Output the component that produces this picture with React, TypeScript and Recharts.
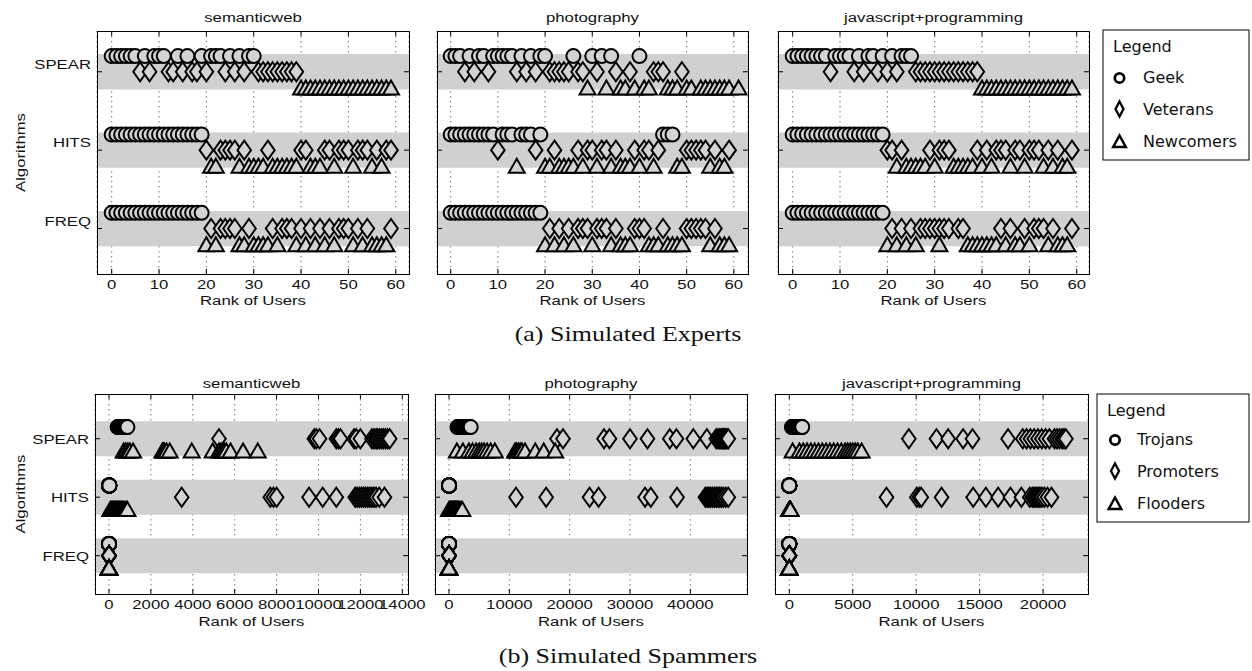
import React from 'react';
import { ScatterChart, Scatter, XAxis, YAxis, CartesianGrid, ReferenceArea } from 'recharts';

// ---------- categories / labels ----------
const ALGORITHMS = ['FREQ', 'HITS', 'SPEAR']; // y = 1, 2, 3
const TOPICS = ['semanticweb', 'photography', 'javascript+programming'];
const EXPERT_CLASSES = ['Geek', 'Veterans', 'Newcomers'];
const SPAMMER_CLASSES = ['Trojans', 'Promoters', 'Flooders'];
const X_TICKS_A = [0, 10, 20, 30, 40, 50, 60];
const X_TICKS_B_SW = [0, 2000, 4000, 6000, 8000, 10000, 12000, 14000];
const X_TICKS_B_PH = [0, 10000, 20000, 30000, 40000];
const X_TICKS_B_JS = [0, 5000, 10000, 15000, 20000];

// ---------- (a) Simulated Experts: ranks ----------
const SW_A_SPEAR_GEEK = [0, 1, 2, 3, 4, 5, 7, 9, 10, 11, 14, 16, 19, 21, 22, 23, 25, 27, 29, 30];
const SW_A_SPEAR_VET = [6, 8, 12, 13, 15, 17, 18, 20, 24, 26, 28, 31, 32, 33, 34, 35, 36, 37, 38, 39];
const SW_A_SPEAR_NEW = [40, 41, 42, 43, 44, 45, 46, 47, 48, 49, 50, 51, 52, 53, 54, 55, 56, 57, 58, 59];
const SW_A_HITS_GEEK = [0, 1, 2, 3, 4, 5, 6, 7, 8, 9, 10, 11, 12, 13, 14, 15, 16, 17, 18, 19];
const SW_A_HITS_VET = [20, 23, 24, 25, 26, 28, 33, 40, 41, 45, 46, 48, 49, 50, 52, 53, 54, 56, 58, 59];
const SW_A_HITS_NEW = [21, 22, 27, 29, 30, 31, 32, 34, 35, 36, 37, 38, 39, 42, 43, 44, 47, 51, 55, 57];
const SW_A_FREQ_GEEK = [0, 1, 2, 3, 4, 5, 6, 7, 8, 9, 10, 11, 12, 13, 14, 15, 16, 17, 18, 19];
const SW_A_FREQ_VET = [21, 23, 24, 25, 26, 29, 34, 36, 37, 38, 40, 42, 44, 46, 48, 49, 50, 52, 54, 59];
const SW_A_FREQ_NEW = [20, 22, 27, 28, 30, 31, 32, 33, 35, 39, 41, 43, 45, 47, 51, 53, 55, 56, 57, 58];

const PH_A_SPEAR_GEEK = [0, 1, 2, 4, 6, 7, 9, 10, 11, 12, 13, 15, 17, 19, 20, 26, 30, 32, 34, 40];
const PH_A_SPEAR_VET = [3, 5, 8, 14, 16, 18, 21, 22, 23, 24, 25, 27, 28, 31, 35, 38, 43, 44, 45, 49];
const PH_A_SPEAR_NEW = [29, 33, 36, 37, 39, 41, 42, 46, 47, 48, 50, 51, 53, 54, 55, 56, 57, 58, 59, 61];
const PH_A_HITS_GEEK = [0, 1, 2, 3, 4, 5, 6, 7, 8, 9, 11, 12, 13, 15, 16, 17, 19, 45, 46, 47];
const PH_A_HITS_VET = [10, 18, 22, 27, 29, 30, 32, 33, 35, 39, 41, 42, 44, 50, 51, 52, 53, 54, 56, 59];
const PH_A_HITS_NEW = [14, 20, 21, 23, 24, 25, 26, 28, 31, 34, 36, 37, 38, 40, 43, 48, 49, 55, 57, 58];
const PH_A_FREQ_GEEK = [0, 1, 2, 3, 4, 5, 6, 7, 8, 9, 10, 11, 12, 13, 14, 15, 16, 17, 18, 19];
const PH_A_FREQ_VET = [21, 23, 25, 27, 28, 29, 31, 32, 33, 35, 39, 40, 41, 45, 50, 51, 52, 53, 54, 56];
const PH_A_FREQ_NEW = [20, 22, 24, 26, 30, 34, 36, 37, 38, 42, 43, 44, 46, 47, 48, 49, 55, 57, 58, 59];

const JS_A_SPEAR_GEEK = [0, 1, 2, 3, 4, 5, 6, 7, 9, 10, 11, 12, 14, 16, 17, 19, 21, 23, 24, 25];
const JS_A_SPEAR_VET = [8, 13, 15, 18, 20, 22, 26, 27, 28, 29, 30, 31, 32, 33, 34, 35, 36, 37, 38, 39];
const JS_A_SPEAR_NEW = [40, 41, 42, 43, 44, 45, 46, 47, 48, 49, 50, 51, 52, 53, 54, 55, 56, 57, 58, 59];
const JS_A_HITS_GEEK = [0, 1, 2, 3, 4, 5, 6, 7, 8, 9, 10, 11, 12, 13, 14, 15, 16, 17, 18, 19];
const JS_A_HITS_VET = [20, 21, 23, 29, 31, 32, 33, 39, 41, 43, 44, 45, 47, 48, 50, 51, 52, 54, 56, 59];
const JS_A_HITS_NEW = [22, 24, 25, 26, 27, 28, 30, 34, 35, 36, 37, 38, 40, 42, 46, 49, 53, 55, 57, 58];
const JS_A_FREQ_GEEK = [0, 1, 2, 3, 4, 5, 6, 7, 8, 9, 10, 11, 12, 13, 14, 15, 16, 17, 18, 19];
const JS_A_FREQ_VET = [21, 23, 25, 27, 28, 29, 30, 31, 32, 33, 35, 36, 44, 46, 49, 51, 52, 53, 55, 59];
const JS_A_FREQ_NEW = [20, 22, 24, 26, 31, 37, 38, 39, 40, 41, 42, 43, 45, 47, 48, 50, 54, 56, 57, 58];

// ---------- (b) Simulated Spammers: ranks ----------
const SW_B_SPEAR_TROJ = [410, 440, 470, 500, 520, 540, 560, 580, 600, 620, 640, 660, 680, 700, 720, 740, 770, 800, 840, 880];
const SW_B_SPEAR_PROM = [5250, 9800, 9900, 10050, 10850, 10950, 11050, 11700, 11800, 12000, 12550, 12650, 12750, 12800, 12900, 13000, 13100, 13200, 13300, 13400];
const SW_B_SPEAR_FLOOD = [700, 800, 900, 1000, 1150, 2550, 2600, 2650, 2750, 2900, 3950, 4950, 5250, 5350, 5450, 5500, 5600, 5800, 6400, 7100];
const SW_B_HITS_TROJ = [0, 1, 2, 3, 4, 5, 6, 7, 8, 9, 10, 11, 12, 13, 14, 15, 16, 17, 18, 19];
const SW_B_HITS_PROM = [3470, 7700, 7850, 8000, 9550, 10200, 10850, 11750, 11850, 11950, 12050, 12150, 12250, 12350, 12450, 12550, 12650, 12750, 12900, 13150];
const SW_B_HITS_FLOOD = [60, 100, 140, 180, 220, 260, 300, 340, 380, 420, 460, 500, 540, 580, 620, 660, 700, 760, 820, 880];
const SW_B_FREQ_TROJ = [0, 0, 0, 0, 0, 0, 0, 0, 0, 0, 0, 0, 0, 0, 0, 0, 0, 0, 0, 0];
const SW_B_FREQ_PROM = [0, 0, 0, 0, 0, 0, 0, 0, 0, 0, 0, 0, 0, 0, 0, 0, 0, 0, 0, 0];
const SW_B_FREQ_FLOOD = [0, 0, 0, 0, 0, 0, 0, 0, 0, 0, 0, 0, 0, 0, 0, 0, 0, 0, 0, 0];

const PH_B_SPEAR_TROJ = [1400, 1500, 1600, 1700, 1800, 1900, 2000, 2100, 2200, 2300, 2400, 2500, 2600, 2700, 2800, 2900, 3000, 3200, 3400, 3600];
const PH_B_SPEAR_PROM = [17900, 18900, 25700, 26600, 30000, 32900, 36600, 37700, 40500, 42750, 44300, 44600, 44900, 45100, 45300, 45500, 45700, 45900, 46100, 46300];
const PH_B_SPEAR_FLOOD = [1300, 2300, 3300, 3900, 4500, 5000, 5400, 5800, 6300, 6900, 7600, 10950, 11200, 11500, 11800, 12100, 12600, 14300, 15700, 17600];
const PH_B_HITS_TROJ = [0, 0, 0, 0, 0, 0, 0, 0, 0, 0, 0, 0, 0, 0, 0, 0, 0, 0, 0, 0];
const PH_B_HITS_PROM = [11100, 16100, 23300, 24800, 32500, 33450, 37800, 42500, 42800, 43100, 43400, 43700, 44000, 44300, 44600, 44900, 45200, 45500, 45900, 46300];
const PH_B_HITS_FLOOD = [0, 100, 200, 300, 400, 500, 600, 700, 800, 900, 1000, 1100, 1200, 1300, 1400, 1500, 1600, 1800, 2000, 2200];
const PH_B_FREQ_TROJ = [0, 0, 0, 0, 0, 0, 0, 0, 0, 0, 0, 0, 0, 0, 0, 0, 0, 0, 0, 0];
const PH_B_FREQ_PROM = [0, 0, 0, 0, 0, 0, 0, 0, 0, 0, 0, 0, 0, 0, 0, 0, 0, 0, 0, 0];
const PH_B_FREQ_FLOOD = [0, 0, 0, 0, 0, 0, 0, 0, 0, 0, 0, 0, 0, 0, 0, 0, 0, 0, 0, 0];

const JS_B_SPEAR_TROJ = [200, 250, 300, 350, 400, 450, 500, 550, 600, 650, 700, 750, 800, 850, 900, 920, 940, 960, 980, 1020];
const JS_B_SPEAR_PROM = [9420, 11600, 12520, 13700, 14440, 17240, 18400, 18700, 19000, 19300, 19600, 19900, 20200, 20500, 20900, 21100, 21300, 21500, 21650, 21800];
const JS_B_SPEAR_FLOOD = [260, 800, 1100, 1400, 1700, 2000, 2300, 2600, 2900, 3200, 3500, 3800, 4100, 4400, 4600, 4800, 5000, 5200, 5400, 5700];
const JS_B_HITS_TROJ = [0, 0, 0, 0, 0, 0, 0, 0, 0, 0, 0, 0, 0, 0, 0, 0, 0, 0, 0, 0];
const JS_B_HITS_PROM = [7660, 10050, 10250, 10400, 12000, 14490, 15490, 16460, 17430, 18290, 18950, 19150, 19300, 19450, 19600, 19750, 19900, 20100, 20350, 20660];
const JS_B_HITS_FLOOD = [0, 0, 10, 10, 20, 20, 30, 30, 40, 40, 50, 50, 60, 60, 70, 70, 80, 80, 90, 90];
const JS_B_FREQ_TROJ = [0, 0, 0, 0, 0, 0, 0, 0, 0, 0, 0, 0, 0, 0, 0, 0, 0, 0, 0, 0];
const JS_B_FREQ_PROM = [0, 0, 0, 0, 0, 0, 0, 0, 0, 0, 0, 0, 0, 0, 0, 0, 0, 0, 0, 0];
const JS_B_FREQ_FLOOD = [0, 0, 0, 0, 0, 0, 0, 0, 0, 0, 0, 0, 0, 0, 0, 0, 0, 0, 0, 0];

// ---------- styling ----------
const BAND = '#d0d0d0';
const FILL = '#d3d3d3';
const SANS = '"Liberation Sans", Arial, Helvetica, sans-serif';
const LEGEND_FONT = '"DejaVu Sans", Verdana, sans-serif';
const SERIF = '"Liberation Serif", "DejaVu Serif", serif';
const STRETCH = 1.24;
const OFFSET = 0.2;

type Pt = { x: number; y: number };
const pts = (vals: number[], y: number): Pt[] => vals.map((v) => ({ x: v, y }));

const SText = ({ x, y, anchor = 'middle', size = 13.5, rotate = false, children }: any) => (
  <text
    transform={`translate(${x},${y})${rotate ? ' rotate(-90)' : ''} scale(${STRETCH},1)`}
    textAnchor={anchor}
    fontFamily={SANS}
    fontSize={size}
    fill="#111"
  >
    {children}
  </text>
);

const CircleShape = (p: any) => (
  <circle cx={p.cx} cy={p.cy} r={7} fill={FILL} stroke="#000" strokeWidth={2} />
);
const DiamondShape = (p: any) => (
  <polygon
    points={`${p.cx},${p.cy - 9.5} ${p.cx + 6.8},${p.cy} ${p.cx},${p.cy + 9.5} ${p.cx - 6.8},${p.cy}`}
    fill={FILL}
    stroke="#000"
    strokeWidth={2}
    strokeLinejoin="miter"
  />
);
const TriangleShape = (p: any) => (
  <polygon
    points={`${p.cx},${p.cy - 7} ${p.cx + 8},${p.cy + 7} ${p.cx - 8},${p.cy + 7}`}
    fill={FILL}
    stroke="#000"
    strokeWidth={2}
    strokeLinejoin="miter"
  />
);

type PanelProps = {
  left: number; top: number; w: number; h: number;
  xDomain: [number, number]; xTicks: number[]; yDomain: [number, number];
  showY: boolean; yLabelDy: number; bandHalf: number;
  spear: number[][]; hits: number[][]; freq: number[][];
};

const Panel = (pp: PanelProps) => {
  const mL = pp.showY ? 92 : 8;
  const mR = 30;
  const mT = 8;
  const axH = 40;
  const plotTop = mT;
  const plotBottom = mT + pp.h;
  const plotLeft = mL;
  const plotRight = mL + pp.w;
  const rows = [pp.freq, pp.hits, pp.spear];
  const geek: Pt[] = [];
  const vet: Pt[] = [];
  const nw: Pt[] = [];
  rows.forEach((r, i) => {
    const y = i + 1;
    geek.push(...pts(r[0], y + OFFSET));
    vet.push(...pts(r[1], y));
    nw.push(...pts(r[2], y - OFFSET));
  });
  const xTick = (props: any) => {
    const x = props.payload.coordinate;
    return (
      <g>
        <line x1={x} x2={x} y1={plotBottom} y2={plotBottom - 5} stroke="#000" strokeWidth={1} />
        <line x1={x} x2={x} y1={plotTop} y2={plotTop + 5} stroke="#000" strokeWidth={1} />
        <SText x={x} y={plotBottom + 15}>{props.payload.value}</SText>
      </g>
    );
  };
  const yTick = (props: any) => {
    const y = props.payload.coordinate;
    const name = ALGORITHMS[props.payload.value - 1];
    return (
      <g>
        <line x1={plotLeft} x2={plotLeft + 5} y1={y} y2={y} stroke="#000" strokeWidth={1} />
        <line x1={plotRight} x2={plotRight - 5} y1={y} y2={y} stroke="#000" strokeWidth={1} />
        {pp.showY ? <SText x={plotLeft - 6} y={y + pp.yLabelDy} anchor="end">{name}</SText> : null}
      </g>
    );
  };
  return (
    <>
      <div style={{ position: 'absolute', left: pp.left - mL, top: pp.top - mT }}>
        <ScatterChart width={mL + pp.w + mR} height={mT + pp.h + axH} margin={{ top: mT, right: mR, bottom: 0, left: 0 }}>
          <CartesianGrid horizontal={false} stroke="#666" strokeDasharray="1.5 3.5" strokeWidth={0.9} />
          {[1, 2, 3].map((a) => (
            <ReferenceArea key={a} y1={a - pp.bandHalf} y2={a + pp.bandHalf} fill={BAND} fillOpacity={1} stroke="none" ifOverflow="hidden" />
          ))}
          <XAxis type="number" dataKey="x" domain={pp.xDomain} ticks={pp.xTicks} interval={0} allowDataOverflow height={axH} axisLine={false} tickLine={false} tick={xTick} />
          <YAxis type="number" dataKey="y" domain={pp.yDomain} ticks={[1, 2, 3]} interval={0} allowDataOverflow width={mL} axisLine={false} tickLine={false} tick={yTick} />
          <Scatter data={geek} shape={CircleShape} isAnimationActive={false} />
          <Scatter data={vet} shape={DiamondShape} isAnimationActive={false} />
          <Scatter data={nw} shape={TriangleShape} isAnimationActive={false} />
        </ScatterChart>
      </div>
      <div style={{ position: 'absolute', left: pp.left, top: pp.top, width: pp.w + 1, height: pp.h + 1, border: '1px solid #000', boxSizing: 'border-box', pointerEvents: 'none' }} />
    </>
  );
};

const TOP_Y = 31, TOP_H = 243, BOT_Y = 394, BOT_H = 200;
const TOP_PANELS = [
  { left: 97, w: 312, xDomain: [-3.1, 62.8] as [number, number], spear: [SW_A_SPEAR_GEEK, SW_A_SPEAR_VET, SW_A_SPEAR_NEW], hits: [SW_A_HITS_GEEK, SW_A_HITS_VET, SW_A_HITS_NEW], freq: [SW_A_FREQ_GEEK, SW_A_FREQ_VET, SW_A_FREQ_NEW] },
  { left: 437, w: 311, xDomain: [-2.9, 63] as [number, number], spear: [PH_A_SPEAR_GEEK, PH_A_SPEAR_VET, PH_A_SPEAR_NEW], hits: [PH_A_HITS_GEEK, PH_A_HITS_VET, PH_A_HITS_NEW], freq: [PH_A_FREQ_GEEK, PH_A_FREQ_VET, PH_A_FREQ_NEW] },
  { left: 778, w: 311, xDomain: [-3.1, 62.6] as [number, number], spear: [JS_A_SPEAR_GEEK, JS_A_SPEAR_VET, JS_A_SPEAR_NEW], hits: [JS_A_HITS_GEEK, JS_A_HITS_VET, JS_A_HITS_NEW], freq: [JS_A_FREQ_GEEK, JS_A_FREQ_VET, JS_A_FREQ_NEW] },
];
const BOT_PANELS = [
  { left: 95, w: 313, xDomain: [-668, 14272] as [number, number], xTicks: X_TICKS_B_SW, spear: [SW_B_SPEAR_TROJ, SW_B_SPEAR_PROM, SW_B_SPEAR_FLOOD], hits: [SW_B_HITS_TROJ, SW_B_HITS_PROM, SW_B_HITS_FLOOD], freq: [SW_B_FREQ_TROJ, SW_B_FREQ_PROM, SW_B_FREQ_FLOOD] },
  { left: 435, w: 312, xDomain: [-2324, 49400] as [number, number], xTicks: X_TICKS_B_PH, spear: [PH_B_SPEAR_TROJ, PH_B_SPEAR_PROM, PH_B_SPEAR_FLOOD], hits: [PH_B_HITS_TROJ, PH_B_HITS_PROM, PH_B_HITS_FLOOD], freq: [PH_B_FREQ_TROJ, PH_B_FREQ_PROM, PH_B_FREQ_FLOOD] },
  { left: 775, w: 313, xDomain: [-1126, 23540] as [number, number], xTicks: X_TICKS_B_JS, spear: [JS_B_SPEAR_TROJ, JS_B_SPEAR_PROM, JS_B_SPEAR_FLOOD], hits: [JS_B_HITS_TROJ, JS_B_HITS_PROM, JS_B_HITS_FLOOD], freq: [JS_B_FREQ_TROJ, JS_B_FREQ_PROM, JS_B_FREQ_FLOOD] },
];

const LegendBox = ({ x, y, w, h, names, titleX, textX, mx, rowsY }: any) => (
  <g>
    <rect x={x} y={y} width={w} height={h} fill="#fff" stroke="#000" strokeWidth={1} />
    <text x={titleX} y={y + 22} fontFamily={LEGEND_FONT} fontSize={16} fill="#111">Legend</text>
    <circle cx={mx} cy={rowsY[0] - 5} r={4.7} fill="#fff" stroke="#000" strokeWidth={2.7} />
    <polygon points={`${mx},${rowsY[1] - 13.5} ${mx + 4},${rowsY[1] - 6} ${mx},${rowsY[1] + 1.5} ${mx - 4},${rowsY[1] - 6}`} fill="#fff" stroke="#000" strokeWidth={2.3} />
    <polygon points={`${mx},${rowsY[2] - 11.5} ${mx + 6.3},${rowsY[2]} ${mx - 6.3},${rowsY[2]}`} fill="#fff" stroke="#000" strokeWidth={2.5} />
    {names.map((n: string, i: number) => (
      <text key={n} x={textX} y={rowsY[i]} fontFamily={LEGEND_FONT} fontSize={16} fill="#111">{n}</text>
    ))}
  </g>
);

const Caption = ({ y, children }: any) => (
  <text transform={`translate(628,${y}) scale(1.3,1)`} textAnchor="middle" fontFamily={SERIF} fontSize={20} fill="#111">{children}</text>
);

export default function App() {
  return (
    <div style={{ position: 'absolute', left: 0, top: 0, width: 1252, height: 671, background: '#fff', overflow: 'hidden' }}>
      {TOP_PANELS.map((p, i) => (
        <Panel key={'a' + i} left={p.left} top={TOP_Y} w={p.w} h={TOP_H} xDomain={p.xDomain} xTicks={X_TICKS_A}
          yDomain={[0.42, 3.52]} showY={i === 0} yLabelDy={-3} bandHalf={0.225}
          spear={p.spear} hits={p.hits} freq={p.freq} />
      ))}
      {BOT_PANELS.map((p, i) => (
        <Panel key={'b' + i} left={p.left} top={BOT_Y} w={p.w} h={BOT_H} xDomain={p.xDomain} xTicks={p.xTicks}
          yDomain={[0.345, 3.765]} showY={i === 0} yLabelDy={5} bandHalf={0.3}
          spear={p.spear} hits={p.hits} freq={p.freq} />
      ))}
      <svg width={1252} height={671} style={{ position: 'absolute', left: 0, top: 0, pointerEvents: 'none' }}>
        {TOP_PANELS.map((p, i) => (
          <g key={'ta' + i}>
            <SText x={p.left + p.w / 2} y={22}>{TOPICS[i]}</SText>
            <SText x={p.left + p.w / 2} y={TOP_Y + TOP_H + 31}>Rank of Users</SText>
          </g>
        ))}
        {BOT_PANELS.map((p, i) => (
          <g key={'tb' + i}>
            <SText x={p.left + p.w / 2} y={BOT_Y - 6}>{TOPICS[i]}</SText>
            <SText x={p.left + p.w / 2} y={BOT_Y + BOT_H + 32}>Rank of Users</SText>
          </g>
        ))}
        <SText x={25} y={TOP_Y + TOP_H / 2} rotate>Algorithms</SText>
        <SText x={25} y={BOT_Y + BOT_H / 2} rotate>Algorithms</SText>
        <Caption y={341}>(a) Simulated Experts</Caption>
        <Caption y={663}>(b) Simulated Spammers</Caption>
        <LegendBox x={1103} y={30} w={146} h={130} names={EXPERT_CLASSES} titleX={1113} textX={1143} mx={1119.5} rowsY={[83, 115, 147]} />
        <LegendBox x={1097} y={394} w={152} h={128} names={SPAMMER_CLASSES} titleX={1107} textX={1137} mx={1115} rowsY={[445, 477, 509]} />
      </svg>
    </div>
  );
}
